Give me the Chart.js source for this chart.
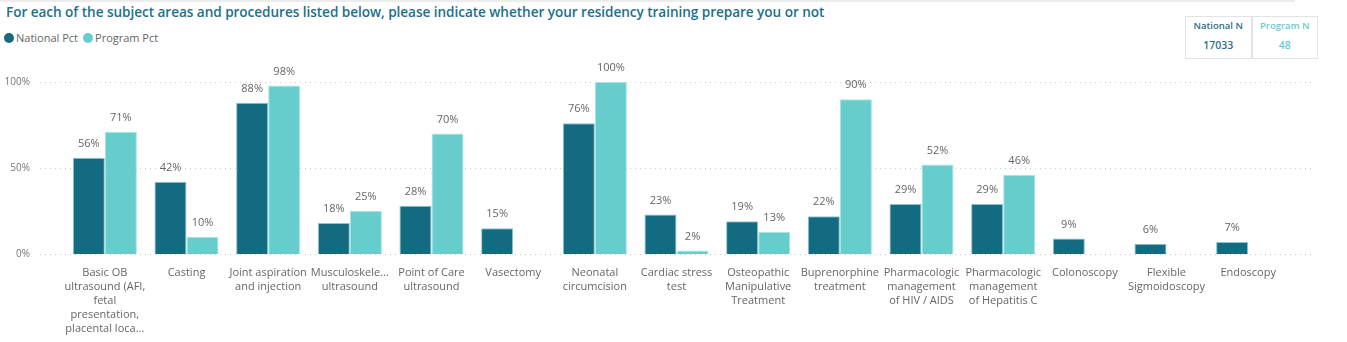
<!DOCTYPE html>
<html><head><meta charset="utf-8">
<script src="https://cdn.jsdelivr.net/npm/chart.js@4.4.1/dist/chart.umd.min.js"></script>
<style>
html,body{margin:0;padding:0;background:#fff;width:1347px;height:342px;overflow:hidden;font-family:"Open Sans",sans-serif;}
#wrap{position:absolute;left:0;top:0;width:1347px;height:342px;}
#title{position:absolute;left:6px;top:2px;font-size:13.6px;color:#1B7189;font-weight:600;white-space:nowrap;letter-spacing:-0.05px;}
#topline{position:absolute;left:0;top:0;width:1295px;height:2px;background:#ececec;}
#legend{position:absolute;left:4px;top:30px;font-size:11px;color:#666;white-space:nowrap;}
#legend span.dot{display:inline-block;width:10px;height:10px;border-radius:50%;vertical-align:-1px;margin-right:2px;}
#legend span.item{margin-right:5px;}
#kpi{position:absolute;left:1185px;top:16px;width:131px;height:41px;border:1px solid #e3e3e3;display:flex;}
#kpi > div{flex:1;text-align:center;font-size:9.5px;font-weight:600;}
#kpi > div + div{border-left:2px solid #e3e3e3;}
#kpi .h{margin-top:2px;}
#kpi .v{margin-top:6px;font-size:10.5px;}
</style></head>
<body>
<div id="wrap">
<div id="topline"></div>
<div id="title">For each of the subject areas and procedures listed below, please indicate whether your residency training prepare you or not</div>
<div id="legend"><span class="item"><span class="dot" style="background:#126B80"></span>National Pct</span><span class="item"><span class="dot" style="background:#67CDCC"></span>Program Pct</span></div>
<div id="kpi"><div style="color:#2A6F88"><div class="h">National N</div><div class="v">17033</div></div><div style="color:#67CDCC"><div class="h">Program N</div><div class="v">48</div></div></div>
<canvas id="c" width="1347" height="342" style="position:absolute;left:0;top:0;"></canvas>
</div>
<script>
const categories = [
  ["Basic OB","ultrasound (AFI,","fetal","presentation,","placental loca..."],
  "Casting",
  ["Joint aspiration","and injection"],
  ["Musculoskele...","ultrasound"],
  ["Point of Care","ultrasound"],
  "Vasectomy",
  ["Neonatal","circumcision"],
  ["Cardiac stress","test"],
  ["Osteopathic","Manipulative","Treatment"],
  ["Buprenorphine","treatment"],
  ["Pharmacologic","management","of HIV / AIDS"],
  ["Pharmacologic","management","of Hepatitis C"],
  "Colonoscopy",
  ["Flexible","Sigmoidoscopy"],
  "Endoscopy"
];
const nationalPct = [56, 42, 88, 18, 28, 15, 76, 23, 19, 22, 29, 29, 9, 6, 7];
const programPct  = [71, 10, 98, 25, 70, null, 100, 2, 13, 90, 52, 46, null, null, null];
const yTicks = [0, 50, 100];

const gridPlugin = {
  id:'grid',
  beforeDatasetsDraw(chart){
    const ctx = chart.ctx, y = chart.scales.y;
    ctx.save();
    ctx.strokeStyle = '#c8c8c8';
    ctx.lineWidth = 1;
    ctx.setLineDash([1,4]);
    yTicks.forEach(v=>{
      const py = Math.round(y.getPixelForValue(v)) + 0.5;
      ctx.beginPath(); ctx.moveTo(40, py); ctx.lineTo(1312, py); ctx.stroke();
    });
    ctx.restore();
  }
};
const labelPlugin = {
  id:'vals',
  afterDatasetsDraw(chart){
    const ctx = chart.ctx;
    ctx.save();
    ctx.font = '11px "Open Sans", sans-serif';
    ctx.fillStyle = '#666';
    ctx.textAlign = 'center';
    ctx.textBaseline = 'middle';
    chart.data.datasets.forEach((ds,i)=>{
      const meta = chart.getDatasetMeta(i);
      meta.data.forEach((bar,j)=>{
        const v = ds.data[j];
        if(v==null) return;
        ctx.fillText(v + '%', bar.x, bar.y - 14);
      });
    });
    ctx.restore();
  }
};

new Chart(document.getElementById('c'), {
  type:'bar',
  data:{
    labels: categories,
    datasets:[
      {label:'National Pct', data:nationalPct, backgroundColor:'#126B80', borderColor:'#8fc3cc', borderWidth:{top:1,left:1,right:1,bottom:0}},
      {label:'Program Pct', data:programPct, backgroundColor:'#67CDCC', borderColor:'#a9e3e2', borderWidth:{top:1,left:1,right:1,bottom:0}}
    ]
  },
  options:{
    responsive:false,
    animation:false,
    events:[],
    layout:{padding:{top:82, right:58, left:0, bottom:0}},
    datasets:{bar:{categoryPercentage:0.785, barPercentage:1.0}},
    plugins:{legend:{display:false}, tooltip:{enabled:false}},
    scales:{
      x:{
        grid:{display:false, drawTicks:false},
        border:{display:false},
        ticks:{color:'#666', font:{family:'"Open Sans", sans-serif', size:11, lineHeight:1.27}, maxRotation:0, autoSkip:false, padding:12},
        afterFit(s){ s.height = 88; }
      },
      y:{
        min:0, max:100,
        grid:{display:false, drawTicks:false},
        border:{display:false},
        afterBuildTicks(s){ s.ticks = yTicks.map(v=>({value:v})); },
        ticks:{color:'#777', font:{family:'"Open Sans", sans-serif', size:10}, padding:34, callback:v=>v+'%'},
        afterFit(s){ s.width = 64; }
      }
    }
  },
  plugins:[gridPlugin, labelPlugin]
});
</script>
</body></html>
